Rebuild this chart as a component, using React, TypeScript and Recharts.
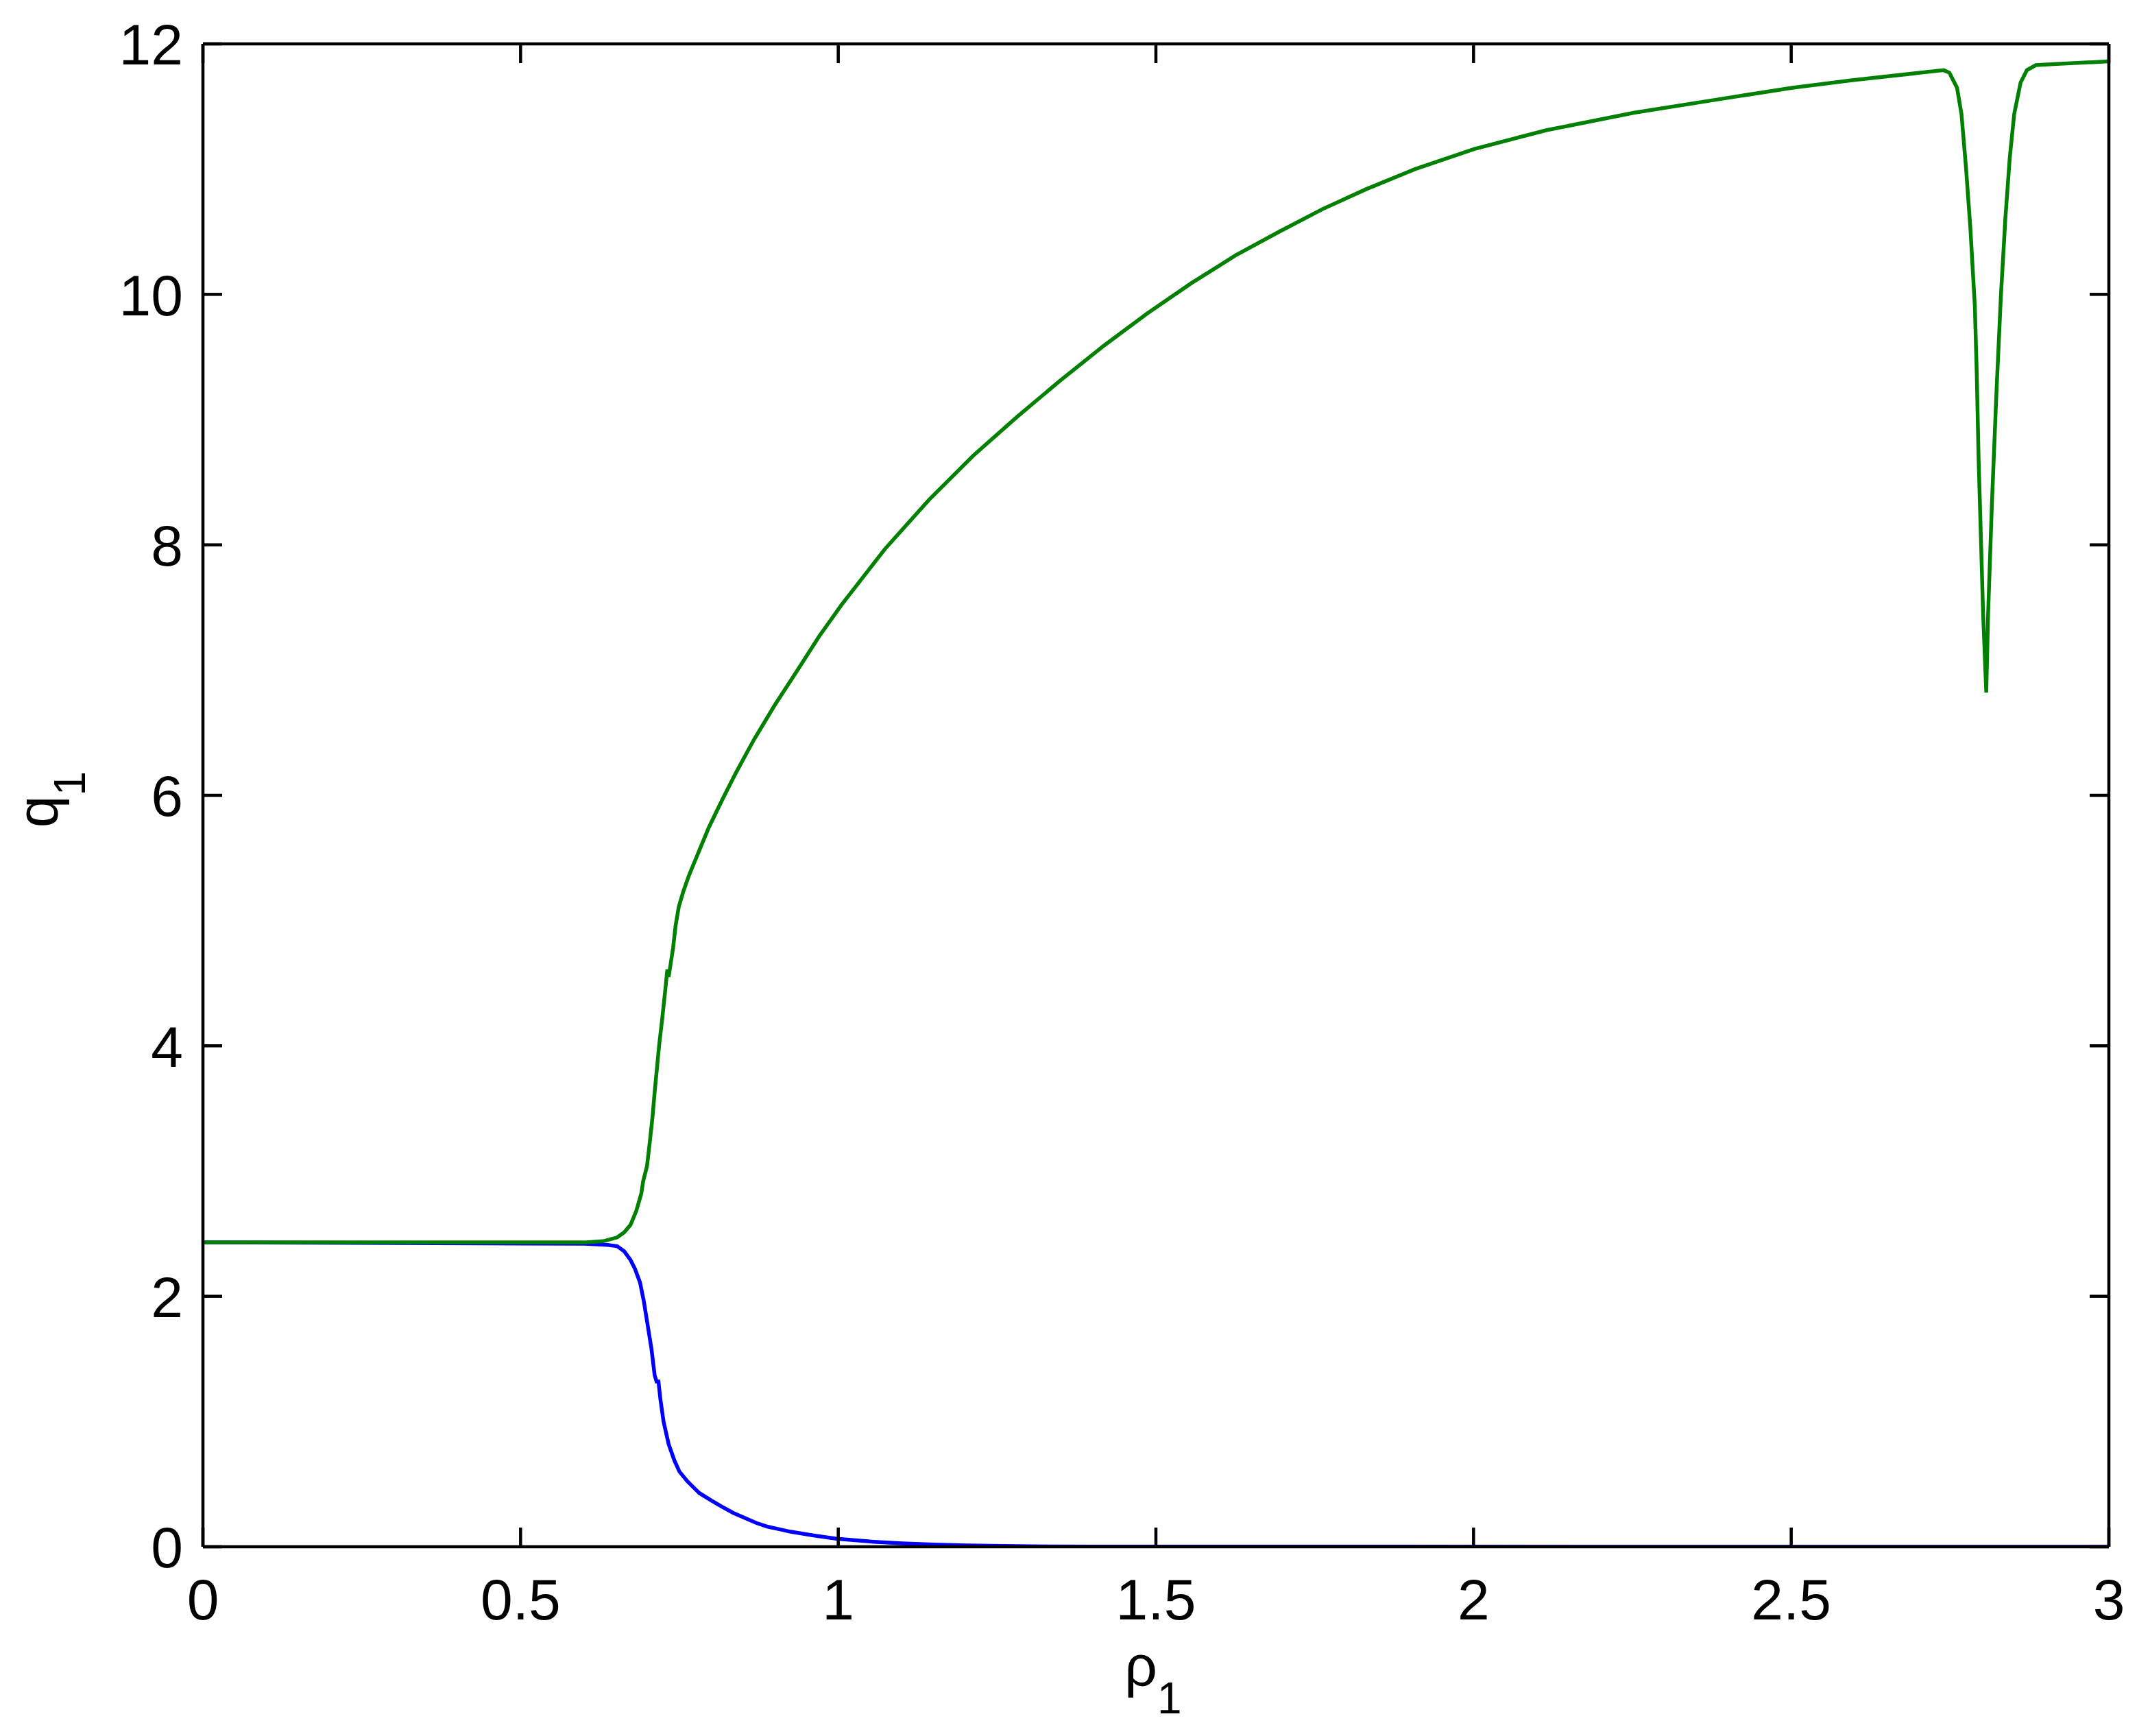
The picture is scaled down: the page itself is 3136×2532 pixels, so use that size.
import { LineChart, Line, XAxis, YAxis, Label } from 'recharts';

// q1 vs rho1, lower branch (blue)
const rhoBlue = [0, 0.601, 0.637, 0.652, 0.663, 0.673, 0.68, 0.688, 0.694, 0.7, 0.706, 0.711, 0.714, 0.717, 0.72, 0.725, 0.733, 0.742, 0.75, 0.763, 0.781, 0.8, 0.817, 0.835, 0.853, 0.871, 0.889, 0.907, 0.925, 0.961, 0.997, 1.05, 1.1, 1.15, 1.2, 1.3, 1.4, 3.0];
const qBlue = [2.43, 2.42, 2.41, 2.4, 2.36, 2.29, 2.22, 2.11, 1.96, 1.77, 1.58, 1.37, 1.32, 1.32, 1.18, 1.0, 0.82, 0.69, 0.6, 0.52, 0.43, 0.37, 0.32, 0.27, 0.23, 0.19, 0.16, 0.14, 0.12, 0.09, 0.064, 0.042, 0.028, 0.018, 0.011, 0.004, 0.001, 0];

// upper branch (green), with the dip near rho = 2.8
const rhoGreen = [0, 0.6, 0.63, 0.652, 0.663, 0.673, 0.682, 0.69, 0.693, 0.699, 0.704, 0.708, 0.711, 0.715, 0.718, 0.723, 0.727, 0.731, 0.733, 0.74, 0.744, 0.749, 0.756, 0.765, 0.778, 0.796, 0.817, 0.839, 0.855, 0.868, 0.9, 0.936, 0.97, 1.005, 1.074, 1.143, 1.212, 1.281, 1.349, 1.418, 1.487, 1.556, 1.625, 1.694, 1.762, 1.831, 1.908, 2.001, 2.114, 2.252, 2.389, 2.502, 2.596, 2.74, 2.749, 2.761, 2.768, 2.775, 2.782, 2.789, 2.792, 2.795, 2.798, 2.802, 2.807, 2.81, 2.816, 2.823, 2.83, 2.837, 2.844, 2.851, 2.861, 2.871, 2.885, 2.918, 3.0];
const qGreen = [2.43, 2.43, 2.44, 2.47, 2.51, 2.57, 2.68, 2.82, 2.92, 3.04, 3.26, 3.45, 3.63, 3.84, 4.0, 4.22, 4.41, 4.61, 4.55, 4.78, 4.96, 5.11, 5.23, 5.36, 5.52, 5.74, 5.96, 6.18, 6.33, 6.45, 6.72, 7.0, 7.27, 7.52, 7.97, 8.36, 8.71, 9.02, 9.31, 9.59, 9.85, 10.09, 10.31, 10.5, 10.68, 10.84, 11.0, 11.16, 11.31, 11.45, 11.56, 11.65, 11.71, 11.79, 11.77, 11.65, 11.44, 11.02, 10.53, 9.91, 9.38, 8.68, 8.16, 7.46, 6.82, 7.46, 8.34, 9.21, 9.98, 10.6, 11.09, 11.44, 11.69, 11.79, 11.83, 11.84, 11.86];

const xTicks = [0, 0.5, 1, 1.5, 2, 2.5, 3];
const yTicks = [0, 2, 4, 6, 8, 10, 12];

const blueData = rhoBlue.map((rho, i) => ({ rho, q: qBlue[i] }));
const greenData = rhoGreen.map((rho, i) => ({ rho, q: qGreen[i] }));

const FONT = '"Liberation Sans", Arial, Helvetica, sans-serif';
const TICK_LEN = 28;
const FS = 84;
const AXIS_W = 4.5;

// matlab style: ticks point inwards on all four sides
const BottomTick = ({ x, y, payload }: any) => (
  <g>
    <line x1={x} y1={y} x2={x} y2={y - TICK_LEN} stroke="#000" strokeWidth={AXIS_W} />
    <text x={x} y={y + 106} textAnchor="middle" fontSize={FS} fontFamily={FONT} fill="#000">
      {payload.value}
    </text>
  </g>
);

const LeftTick = ({ x, y, payload }: any) => (
  <g>
    <line x1={x} y1={y} x2={x + TICK_LEN} y2={y} stroke="#000" strokeWidth={AXIS_W} />
    <text x={x - 29} y={y} dy="0.36em" textAnchor="end" fontSize={FS} fontFamily={FONT} fill="#000">
      {payload.value}
    </text>
  </g>
);

const TopTick = ({ x, y }: any) => (
  <line x1={x} y1={y} x2={x} y2={y + TICK_LEN} stroke="#000" strokeWidth={AXIS_W} />
);

const RightTick = ({ x, y }: any) => (
  <line x1={x} y1={y} x2={x - TICK_LEN} y2={y} stroke="#000" strokeWidth={AXIS_W} />
);

const XLabel = ({ viewBox }: any) => (
  <text
    x={viewBox.x + viewBox.width / 2 - 4}
    y={viewBox.y + 203}
    textAnchor="middle"
    fontSize={FS}
    fontFamily={FONT}
    fill="#000"
  >
    ρ<tspan dy={40} fontSize={64}>1</tspan>
  </text>
);

const YLabel = ({ viewBox }: any) => {
  const cx = 76;
  const cy = viewBox.y + viewBox.height / 2 + 6;
  return (
    <text
      x={cx}
      y={cy}
      transform={`rotate(-90, ${cx}, ${cy})`}
      textAnchor="middle"
      fontSize={FS}
      fontFamily={FONT}
      fill="#000"
    >
      q<tspan dy={40} fontSize={64}>1</tspan>
    </text>
  );
};

export default function App() {
  return (
    <div style={{ width: 3120, height: 2516, background: '#fff' }}>
      <LineChart width={3120} height={2516} margin={{ top: 0, right: 0, bottom: 0, left: 0 }}>
        <XAxis
          xAxisId="b"
          type="number"
          dataKey="rho"
          domain={[0, 3]}
          ticks={xTicks}
          interval={0}
          height={268}
          tickSize={0}
          tickMargin={0}
          tickLine={false}
          tick={<BottomTick />}
          axisLine={{ stroke: '#000', strokeWidth: AXIS_W }}
          allowDataOverflow
        >
          <Label content={<XLabel />} />
        </XAxis>
        <XAxis
          xAxisId="t"
          orientation="top"
          type="number"
          dataKey="rho"
          domain={[0, 3]}
          ticks={xTicks}
          interval={0}
          height={56}
          tickSize={0}
          tickMargin={0}
          tickLine={false}
          tick={<TopTick />}
          axisLine={{ stroke: '#000', strokeWidth: AXIS_W }}
          allowDataOverflow
        />
        <YAxis
          yAxisId="l"
          type="number"
          domain={[0, 12]}
          ticks={yTicks}
          interval={0}
          width={288}
          tickSize={0}
          tickMargin={0}
          tickLine={false}
          tick={<LeftTick />}
          axisLine={{ stroke: '#000', strokeWidth: AXIS_W }}
          allowDataOverflow
        >
          <Label content={<YLabel />} />
        </YAxis>
        <YAxis
          yAxisId="r"
          orientation="right"
          type="number"
          domain={[0, 12]}
          ticks={yTicks}
          interval={0}
          width={52}
          tickSize={0}
          tickMargin={0}
          tickLine={false}
          tick={<RightTick />}
          axisLine={{ stroke: '#000', strokeWidth: AXIS_W }}
          allowDataOverflow
        />

        <Line
          xAxisId="b"
          yAxisId="l"
          data={blueData}
          dataKey="q"
          type="linear"
          stroke="#0000FF"
          strokeWidth={5.5}
          dot={false}
          activeDot={false}
          isAnimationActive={false}
        />
        <Line
          xAxisId="b"
          yAxisId="l"
          data={greenData}
          dataKey="q"
          type="linear"
          stroke="#008000"
          strokeWidth={5.5}
          dot={false}
          activeDot={false}
          isAnimationActive={false}
        />
      </LineChart>
    </div>
  );
}
